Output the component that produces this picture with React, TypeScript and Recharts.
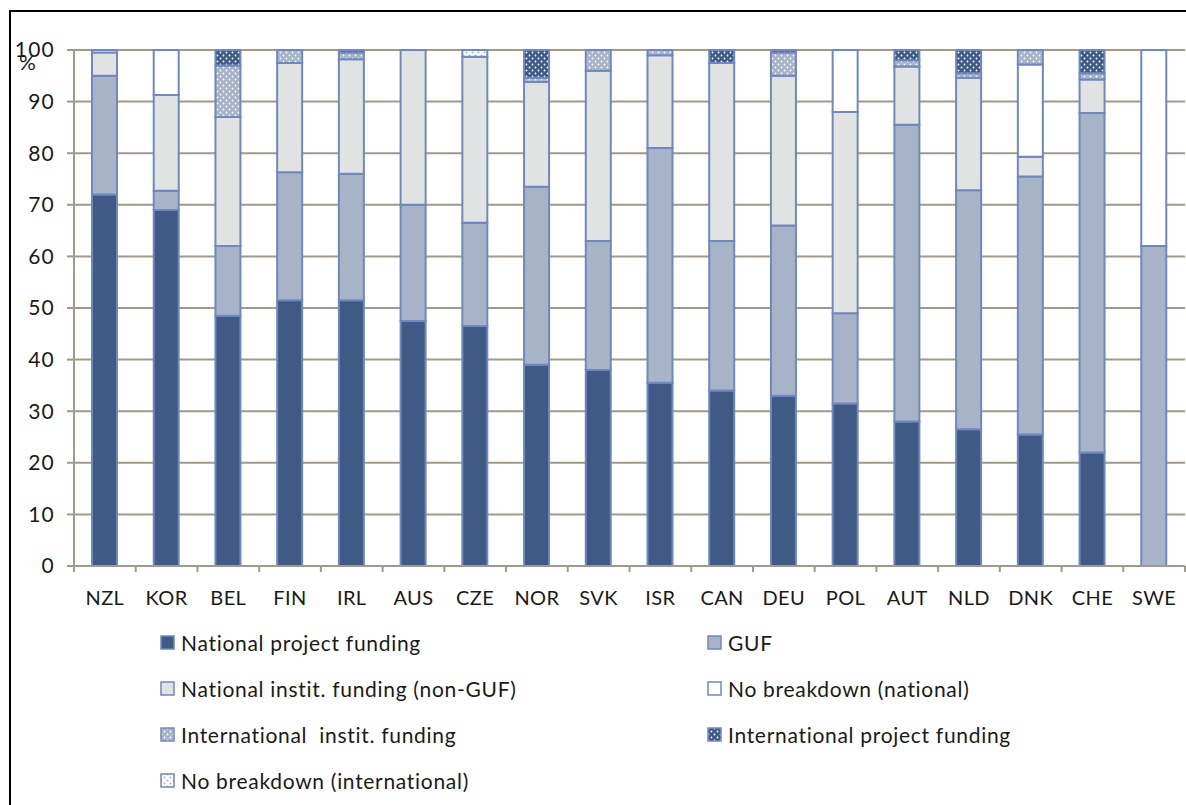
import React from 'react';
import { BarChart, Bar, XAxis, YAxis, CartesianGrid } from 'recharts';

const countries = ['NZL', 'KOR', 'BEL', 'FIN', 'IRL', 'AUS', 'CZE', 'NOR', 'SVK', 'ISR', 'CAN', 'DEU', 'POL', 'AUT', 'NLD', 'DNK', 'CHE', 'SWE'];

const nationalProject = [72, 69, 48.5, 51.5, 51.5, 47.5, 46.5, 39, 38, 35.5, 34, 33, 31.5, 28, 26.5, 25.5, 22, 0];
const guf = [23, 3.7, 13.5, 24.8, 24.5, 22.5, 20, 34.5, 25, 45.5, 29, 33, 17.5, 57.5, 46.3, 50, 65.8, 62];
const nationalInstit = [4.5, 18.6, 25, 21.2, 22.2, 30, 32.2, 20.3, 33, 18, 34.5, 29, 39, 11.3, 21.8, 3.8, 6.5, 0];
const noBreakdownNational = [0.5, 8.7, 0, 0, 0, 0, 0, 0, 0, 0, 0, 0, 12, 0, 0, 17.9, 0, 38];
const internationalInstit = [0, 0, 10, 2.5, 1.3, 0, 0, 0.8, 4, 1, 0, 4.5, 0, 1.2, 0.9, 2.8, 1.2, 0];
const internationalProject = [0, 0, 3, 0, 0.5, 0, 0, 5.4, 0, 0, 2.5, 0.5, 0, 2, 4.5, 0, 4.5, 0];
const noBreakdownInternational = [0, 0, 0, 0, 0, 0, 1.3, 0, 0, 0, 0, 0, 0, 0, 0, 0, 0, 0];

const yTicks = [0, 10, 20, 30, 40, 50, 60, 70, 80, 90, 100];

const data = countries.map((name, i) => ({
    name,
    np: nationalProject[i],
    guf: guf[i],
    ni: nationalInstit[i],
    nbn: noBreakdownNational[i],
    ii: internationalInstit[i],
    ip: internationalProject[i],
    nbi: noBreakdownInternational[i],
}));

const series = [
    { key: 'np', label: 'National project funding', fill: '#3F5A85' },
    { key: 'guf', label: 'GUF', fill: '#A7B4C7' },
    { key: 'ni', label: 'National instit. funding (non-GUF)', fill: '#E1E3E3' },
    { key: 'nbn', label: 'No breakdown (national)', fill: '#FFFFFF' },
    { key: 'ii', label: 'International  instit. funding', fill: 'url(#dotsLight)' },
    { key: 'ip', label: 'International project funding', fill: 'url(#dotsDark)' },
    { key: 'nbi', label: 'No breakdown (international)', fill: 'url(#dotsWhite)' },
];

const FONT = 'Lato, "Open Sans", sans-serif';
const GRID = '#A09a88';
const EDGE = '#6F88C0';
const PLOT_LEFT = 74;
const PLOT_RIGHT = 1185;
const HALF_BAND = (PLOT_RIGHT - PLOT_LEFT) / countries.length / 2;

function CountryTick(props: any) {
    const { x, y, payload, index } = props;
    const last = index === countries.length - 1;
    return (
        <g>
            <line x1={x - HALF_BAND} y1={y} x2={x - HALF_BAND} y2={y + 6} stroke={GRID} strokeWidth={2} />
            {last && <line x1={x + HALF_BAND} y1={y} x2={x + HALF_BAND} y2={y + 6} stroke={GRID} strokeWidth={2} />}
            <text x={x} y={y + 39} textAnchor="middle" fontSize={20} letterSpacing={0.4} fill="#1a1a1a" fontFamily={FONT}>
                {payload.value}
            </text>
        </g>
    );
}

function Swatch({ fill }: { fill: string }) {
    return (
        <svg width={15} height={15} style={{ display: 'block' }}>
            <rect x={1} y={1} width={13} height={13} fill={fill} stroke={EDGE} strokeWidth={1.5} />
        </svg>
    );
}

export default function App() {
    const legendRows = [
        [series[0], series[1]],
        [series[2], series[3]],
        [series[4], series[5]],
        [series[6], null],
    ];

    return (
        <div style={{ position: 'absolute', left: 0, top: 0, width: 1186, height: 805, background: '#fff', overflow: 'hidden' }}>
            <svg width={0} height={0} style={{ position: 'absolute' }}>
                <defs>
                    <pattern id="dotsLight" width={6} height={6} patternUnits="userSpaceOnUse">
                        <rect width={6} height={6} fill="#A7B4C7" />
                        <circle cx={1.5} cy={1.5} r={0.9} fill="#fff" />
                        <circle cx={4.5} cy={4.5} r={0.9} fill="#fff" />
                    </pattern>
                    <pattern id="dotsDark" width={6} height={6} patternUnits="userSpaceOnUse">
                        <rect width={6} height={6} fill="#3F5A85" />
                        <circle cx={1.5} cy={1.5} r={0.9} fill="#fff" />
                        <circle cx={4.5} cy={4.5} r={0.9} fill="#fff" />
                    </pattern>
                    <pattern id="dotsWhite" width={6} height={6} patternUnits="userSpaceOnUse">
                        <rect width={6} height={6} fill="#fff" />
                        <circle cx={1.5} cy={1.5} r={1} fill="#A7B4C7" />
                        <circle cx={4.5} cy={4.5} r={1} fill="#A7B4C7" />
                    </pattern>
                </defs>
            </svg>
            <div style={{ position: 'absolute', left: 9, top: 10, right: 0, bottom: 0, borderTop: '2px solid #000', borderLeft: '2px solid #000' }} />
            <div style={{ position: 'absolute', left: 0, top: 0 }}>
                <BarChart
                    width={1186}
                    height={805}
                    data={data}
                    margin={{ top: 50, right: 1186 - PLOT_RIGHT, left: 0, bottom: 199 }}
                >
                    <CartesianGrid vertical={false} stroke={GRID} strokeWidth={2} strokeOpacity={1} />
                    <XAxis
                        dataKey="name"
                        height={40}
                        stroke={GRID}
                        strokeWidth={2}
                        tickLine={false}
                        tickSize={0}
                        tickMargin={0}
                        interval={0}
                        tick={<CountryTick />}
                    />
                    <YAxis
                        width={PLOT_LEFT}
                        domain={[0, 100]}
                        ticks={yTicks}
                        interval={0}
                        stroke={GRID}
                        strokeWidth={2}
                        tickSize={7}
                        tickMargin={12}
                        tick={{ fill: '#1a1a1a', fontSize: 21, fontFamily: FONT, letterSpacing: 1.2 }}
                        label={{
                            content: () => (
                                <text x={19} y={70} fontSize={21} fill="#1a1a1a" fontFamily={FONT}>%</text>
                            ),
                        }}
                    />
                    {series.map((s) => (
                        <Bar
                            key={s.key}
                            dataKey={s.key}
                            name={s.label}
                            stackId="total"
                            fill={s.fill}
                            stroke={EDGE}
                            strokeWidth={2}
                            barSize={25}
                            isAnimationActive={false}
                        />
                    ))}
                </BarChart>
            </div>
            {legendRows.map((row, r) => (
                row.map((s, c) => s && (
                    <div
                        key={s.key}
                        style={{
                            position: 'absolute',
                            left: c === 0 ? 160 : 707,
                            top: 642 + r * 46 - 12,
                            height: 24,
                            display: 'flex',
                            alignItems: 'center',
                            gap: 6,
                            fontFamily: FONT,
                            fontSize: 21,
                            letterSpacing: 0.7,
                            color: '#1a1a1a',
                            whiteSpace: 'pre',
                        }}
                    >
                        <Swatch fill={s.fill} />
                        <span>{s.label}</span>
                    </div>
                ))
            ))}
        </div>
    );
}
